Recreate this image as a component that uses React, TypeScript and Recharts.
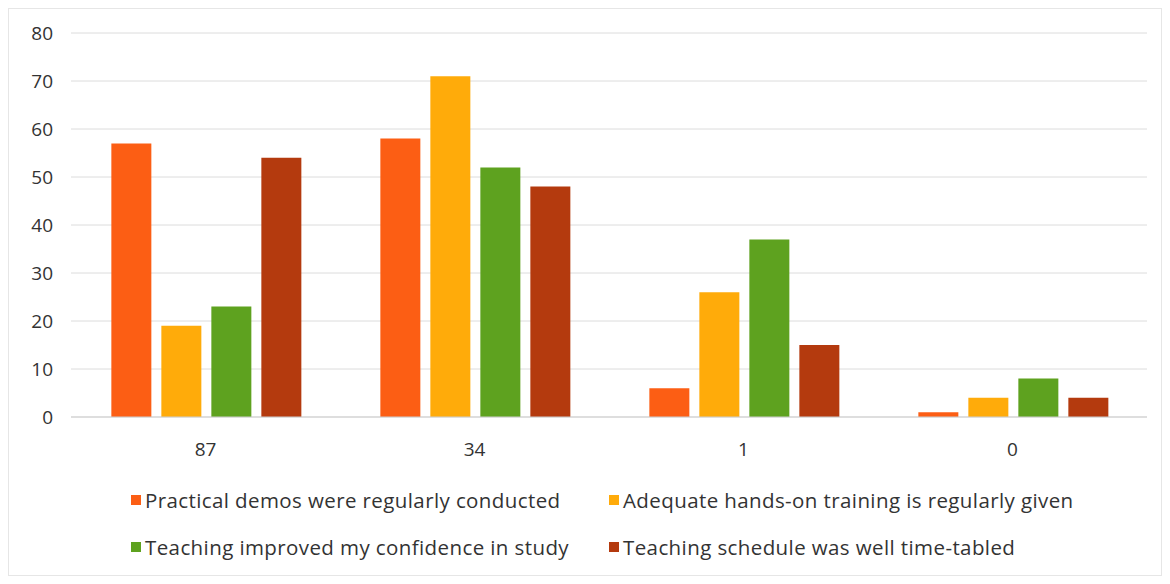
import React from "react";
import { BarChart, Bar, XAxis, YAxis, CartesianGrid, Legend } from "recharts";

const categories = ["87", "34", "1", "0"];
const practicalDemos = [57, 58, 6, 1];
const handsOnTraining = [19, 71, 26, 4];
const confidence = [23, 52, 37, 8];
const schedule = [54, 48, 15, 4];
const yTicks = [0, 10, 20, 30, 40, 50, 60, 70, 80];

const seriesNames = [
  "Practical demos were regularly conducted",
  "Adequate hands-on training is regularly given",
  "Teaching improved my confidence in study",
  "Teaching schedule was well time-tabled",
];
const colors = ["#FC5E14", "#FFAB0A", "#5EA21F", "#B43A0E"];

const data = categories.map((c, i) => ({
  cat: c,
  s0: practicalDemos[i],
  s1: handsOnTraining[i],
  s2: confidence[i],
  s3: schedule[i],
}));

const FONT = "'Open Sans', 'Noto Sans', sans-serif";

const LegendContent = () => {
  const items = seriesNames.map((name, i) => (
    <div
      key={i}
      style={{
        position: "absolute",
        left: i % 2 === 0 ? 122 : 600,
        top: i < 2 ? 19 : 66,
        display: "flex",
        alignItems: "center",
        whiteSpace: "nowrap",
      }}
    >
      <span
        style={{
          display: "inline-block",
          width: 10,
          height: 10,
          background: colors[i],
          marginRight: 4,
        }}
      />
      <span style={{ fontFamily: FONT, fontSize: 20.5, letterSpacing: 0.4, color: "#333" }}>{name}</span>
    </div>
  ));
  return <div style={{ position: "relative", width: 1152, height: 108 }}>{items}</div>;
};

export default function App() {
  return (
    <div
      style={{
        width: 1154,
        height: 568,
        background: "#fff",
        border: "1px solid #e6e6e6",
        boxSizing: "border-box",
      }}
    >
      <BarChart
        width={1152}
        height={566}
        data={data}
        margin={{ top: 24, right: 14, left: 0, bottom: 0 }}
        barCategoryGap="15%"
        barGap={10}
      >
        <CartesianGrid vertical={false} stroke="#dcdcdc" />
        <XAxis
          dataKey="cat"
          height={50}
          tickLine={false}
          axisLine={{ stroke: "#cfcfcf" }}
          tickSize={0}
          tickMargin={26}
          tick={{ fontFamily: FONT, fontSize: 19, fill: "#333" }}
        />
        <YAxis
          width={62}
          domain={[0, 80]}
          ticks={yTicks}
          tickLine={false}
          axisLine={false}
          tickSize={0}
          tickMargin={18}
          tick={{ fontFamily: FONT, fontSize: 19, fill: "#333" }}
        />
        <Legend verticalAlign="bottom" height={108} content={<LegendContent />} />
        <Bar dataKey="s0" name={seriesNames[0]} fill={colors[0]} isAnimationActive={false} />
        <Bar dataKey="s1" name={seriesNames[1]} fill={colors[1]} isAnimationActive={false} />
        <Bar dataKey="s2" name={seriesNames[2]} fill={colors[2]} isAnimationActive={false} />
        <Bar dataKey="s3" name={seriesNames[3]} fill={colors[3]} isAnimationActive={false} />
      </BarChart>
    </div>
  );
}
